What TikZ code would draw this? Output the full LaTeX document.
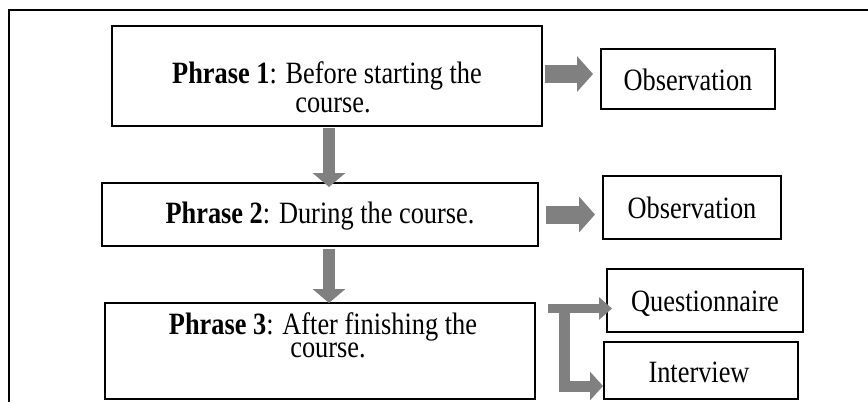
\documentclass[tikz,border=0pt]{standalone}
\usepackage{fontspec}
\setmainfont{Liberation Serif}[FakeStretch=0.85]
\usetikzlibrary{arrows.meta}
\definecolor{ag}{HTML}{808080}
\begin{document}
\begin{tikzpicture}[x=1pt,y=-1pt,
  box/.style={draw=black,line width=2pt,rectangle,inner sep=0pt,outer sep=0pt},
  txt/.style={font=\fontsize{31}{29}\selectfont,inner sep=0pt,anchor=base},
  fatH/.style={draw=ag,line width=18pt,-{Triangle[width=35pt,length=16pt]}},
  fatV/.style={draw=ag,line width=12pt,-{Triangle[width=32pt,length=14pt]}},
  fatS/.style={draw=ag,line width=9pt,-{Triangle[width=22pt,length=13pt]}},
  fatB/.style={draw=ag,line width=11pt,line join=miter,-{Triangle[width=28pt,length=13pt]}}]
\useasboundingbox (0,0) rectangle (868,402);
\fill[white] (0,0) rectangle (868,402);
% frame
\draw[line width=2.5pt] (9,402) -- (9,10) -- (868,10);
% boxes
\node[box,minimum width=430pt,minimum height=100pt] (p1) at (327,76) {};
\node[box,minimum width=174pt,minimum height=60pt] (o1) at (688,79) {};
\node[box,minimum width=436pt,minimum height=63pt] (p2) at (320,214.5) {};
\node[box,minimum width=178pt,minimum height=63pt] (o2) at (692,207.5) {};
\node[box,minimum width=430pt,minimum height=96pt] (p3) at (320,351) {};
\node[box,minimum width=196pt,minimum height=63pt] (q) at (705,300.5) {};
\node[box,minimum width=194pt,minimum height=57pt] (iv) at (701,370.5) {};
% texts
\node[txt] (p1a) at (327,83) {\textbf{Phrase 1}: Before starting the};
\node[txt] (p1b) at (333,112) {course.};
\node[txt] (p2a) at (320,223) {\textbf{Phrase 2}: During the course.};
\node[txt] (p3a) at (323,334) {\textbf{Phrase 3}: After finishing the};
\node[txt] (p3b) at (328,357) {course.};
\node[txt] (o1t) at (688,90) {Observation};
\node[txt] (o2t) at (692,218) {Observation};
\node[txt] (qt) at (705,311) {Questionnaire};
\node[txt] (ivt) at (699,382) {Interview};
% arrows
\draw[fatH] ([shift={(3,-2)}]p1.east) -- ([shift={(-8,-2)}]p1.east -| o1.west);
\draw[fatH] ([xshift=8pt]p2.east) -- ([xshift=-8pt]p2.east -| o2.west);
\draw[fatV,shorten >=-2pt] ([shift={(2,2)}]p1.south) -- ([shift={(2,2)}]p1.south |- p2.north);
\draw[fatV,shorten >=3pt] ([shift={(9,3)}]p2.south) -- ([shift={(9,3)}]p2.south |- p3.north);
\coordinate (bs) at ([shift={(13,-42.5)}]p3.east);
\coordinate (bc) at ([shift={(29,-47)}]p3.east);
\draw[fatS,shorten >=-5pt] (bs) -- (bs -| q.west);
\draw[fatB,shorten >=1pt] (bc) |- ([yshift=-15.5pt]iv.west);
\end{tikzpicture}
\end{document}
